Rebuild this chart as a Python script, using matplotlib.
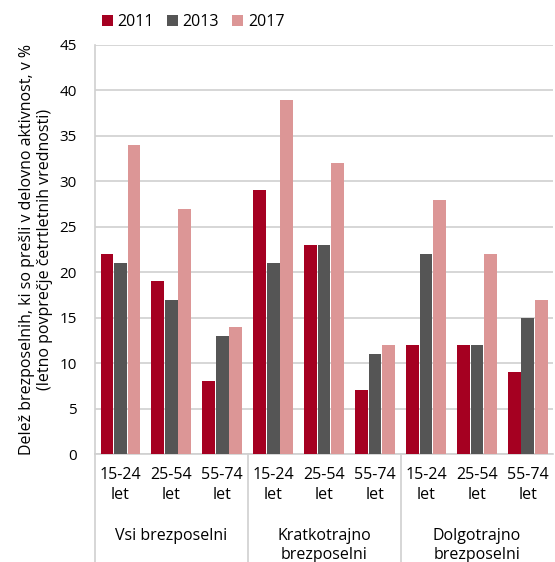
import numpy as np
import matplotlib.pyplot as plt
from matplotlib.transforms import blended_transform_factory

plt.rcParams['font.family'] = ['Open Sans', 'DejaVu Sans']

# Data
groups = ['Vsi brezposelni', 'Kratkotrajno\nbrezposelni', 'Dolgotrajno\nbrezposelni']
ages = ['15-24\nlet', '25-54\nlet', '55-74\nlet']
years = ['2011', '2013', '2017']
v2011 = [22, 19, 8, 29, 23, 7, 12, 12, 9]
v2013 = [21, 17, 13, 21, 23, 11, 22, 12, 15]
v2017 = [34, 27, 14, 39, 32, 12, 28, 22, 17]
colors = ['#A50021', '#555555', '#DC9696']

fig = plt.figure(figsize=(5.55, 5.62), dpi=100)
ax = fig.add_axes([0.171, 0.192, 0.826, 0.728])

x = np.arange(9)
w = 0.25
for i, (vals, c, lab) in enumerate(zip([v2011, v2013, v2017], colors, years)):
    ax.bar(x + (i - 1) * (w + 0.015), vals, width=w, color=c, label=lab, zorder=3)

ax.set_xlim(-0.5, 8.5)
ax.set_ylim(0, 45)
ax.set_yticks(range(0, 46, 5))
ax.yaxis.grid(True, color='#D0D0D0', linewidth=1.2, zorder=0)
ax.tick_params(axis='y', length=0, labelsize=11, pad=13)
ax.set_xticks(x)
ax.set_xticklabels(ages * 3, fontsize=11.5, linespacing=1.35)
ax.tick_params(axis='x', length=0, pad=9)
for s in ['top', 'right']:
    ax.spines[s].set_visible(False)
ax.spines['left'].set_color('#D0D0D0')
ax.spines['bottom'].set_color('#D0D0D0')
ax.spines['left'].set_linewidth(1.2)
ax.spines['bottom'].set_linewidth(1.2)

ax.set_ylabel('Delež brezposelnih, ki so prešli v delovno aktivnost, v %\n(letno povprečje četrtletnih vrednosti)',
              fontsize=11.5, labelpad=5, linespacing=1.15)

# group separators and labels
tr = blended_transform_factory(ax.transData, ax.transAxes)
for b in [-0.5, 2.5, 5.5]:
    ax.plot([b, b], [0, -0.27], transform=tr, color='#D0D0D0', linewidth=1.2, clip_on=False)
for k, g in enumerate(groups):
    ax.text(3 * k + 1, -0.18, g, transform=tr, ha='center', va='top', fontsize=11.5, linespacing=1.25)

ax.legend(loc='lower left', bbox_to_anchor=(-0.01, 1.01), ncol=3, frameon=False,
          fontsize=11.5, handlelength=0.7, handleheight=0.7, handletextpad=0.3,
          columnspacing=0.8, borderpad=0.2)

fig.savefig('out.png', dpi=100)
